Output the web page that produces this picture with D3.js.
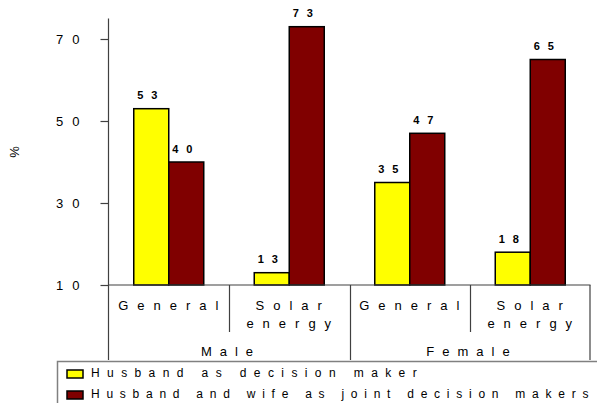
<!DOCTYPE html>
<html><head><meta charset="utf-8">
<script src="https://cdn.jsdelivr.net/npm/d3@7"></script>
<style>
html,body{margin:0;padding:0;background:#fff;}
svg{display:block;font-family:Arial,"Liberation Sans",sans-serif;}
</style></head>
<body><svg id="c" width="597" height="403"></svg>
<script>
const groups = ["Male", "Female"];
const categories = ["General", "Solar energy"];
const seriesNames = ["Husband as decision maker", "Husband and wife as joint decision makers"];
const husbandValues = [53, 13, 35, 18];
const jointValues = [40, 73, 47, 65];
const yTickValues = [10, 30, 50, 70];
const seriesColors = ["#FFFF00", "#800000"];
const legendLetterSpacing = [7.4, 6.75];

(function () {
const svg = d3.select("#c");
const left = 108.5, right = 590.5, topY = 18.5, base = 285;
const cells = [];
groups.forEach(g => categories.forEach(c => cells.push(g + "|" + c)));

const y = d3.scaleLinear().domain([10, 75]).range([base, topY]);
const x = d3.scaleBand().domain(cells).range([left, right]).padding(0);
const barW = 35;
const pOuter = (x.bandwidth() / barW - 2) / 2;
const xs = d3.scaleBand().domain(seriesNames).range([0, x.bandwidth()]).paddingInner(0).paddingOuter(pOuter);

const lineCol = "#404040";

// y axis
const yAxis = d3.axisLeft(y).tickValues(yTickValues).tickSize(8).tickFormat(d3.format("d"));
const ya = svg.append("g").attr("transform", `translate(${left},0)`).call(yAxis);
ya.select(".domain").remove();
ya.selectAll(".tick line").attr("stroke", lineCol).attr("stroke-width", 1.2);
ya.selectAll(".tick text").attr("font-size", 13).attr("font-family", "Arial, 'Liberation Sans', sans-serif")
  .attr("fill", "#000").attr("letter-spacing", "9px").attr("x", -20).attr("dy", "0.38em");
svg.append("line").attr("x1", left).attr("x2", left).attr("y1", topY).attr("y2", 360)
  .attr("stroke", lineCol).attr("stroke-width", 1.2);

// y label
svg.append("text").attr("transform", "translate(19,152) rotate(-90)").attr("text-anchor", "middle")
  .attr("font-size", 13).text("%");

// bars
const data = [];
cells.forEach((c, i) => {
  data.push({cell: c, s: seriesNames[0], v: husbandValues[i], col: seriesColors[0]});
  data.push({cell: c, s: seriesNames[1], v: jointValues[i], col: seriesColors[1]});
});
svg.append("g").selectAll("rect").data(data).join("rect")
  .attr("x", d => x(d.cell) + xs(d.s))
  .attr("y", d => y(d.v))
  .attr("width", xs.bandwidth())
  .attr("height", d => base - y(d.v))
  .attr("fill", d => d.col)
  .attr("stroke", "#000").attr("stroke-width", 1.5);

svg.append("g").selectAll("text").data(data).join("text")
  .attr("x", d => x(d.cell) + xs(d.s) + xs.bandwidth() / 2)
  .attr("y", d => y(d.v) - 9.5)
  .attr("text-anchor", "middle").attr("font-size", 11).attr("font-weight", "bold")
  .attr("letter-spacing", "8px").text(d => d.v);

// baseline
svg.append("line").attr("x1", left).attr("x2", right).attr("y1", base).attr("y2", base)
  .attr("stroke", lineCol).attr("stroke-width", 1.2);

// category dividers
cells.forEach((c, i) => {
  if (i === 0) return;
  const xx = Math.round(x(c)) + 0.5;
  const outer = i % categories.length === 0;
  svg.append("line").attr("x1", xx).attr("x2", xx).attr("y1", base).attr("y2", outer ? 360 : 332)
    .attr("stroke", lineCol).attr("stroke-width", 1.2);
});
svg.append("line").attr("x1", right - 0.5).attr("x2", right - 0.5).attr("y1", base).attr("y2", 360)
  .attr("stroke", lineCol).attr("stroke-width", 1.2);

// category labels
const catG = svg.append("g").attr("font-size", 13).attr("letter-spacing", "9px").attr("text-anchor", "middle");
cells.forEach(c => {
  const name = c.split("|")[1];
  const words = name.split(" ");
  const cx = x(c) + x.bandwidth() / 2 + 4;
  words.forEach((w, k) => {
    catG.append("text").attr("x", cx).attr("y", 310 + k * 18).text(w);
  });
});
groups.forEach((g, gi) => {
  const x0 = x(g + "|" + categories[0]);
  const x1 = x(g + "|" + categories[categories.length - 1]) + x.bandwidth();
  catG.append("text").attr("x", (x0 + x1) / 2 + 2).attr("y", 356).attr("letter-spacing", "8px").text(g);
});

// legend
svg.append("rect").attr("x", 57.5).attr("y", 361.5).attr("width", 600).attr("height", 80)
  .attr("fill", "#fff").attr("stroke", "#808080").attr("stroke-width", 1.5);
seriesNames.forEach((s, i) => {
  const yy = 370 + i * 21;
  svg.append("rect").attr("x", 67).attr("y", yy).attr("width", 16).attr("height", 8)
    .attr("fill", seriesColors[i]).attr("stroke", "#000").attr("stroke-width", 1.5);
  svg.append("text").attr("x", 91).attr("y", yy + 7).attr("font-size", 12)
    .attr("letter-spacing", legendLetterSpacing[i] + "px").text(s);
});
})();
</script></body></html>
